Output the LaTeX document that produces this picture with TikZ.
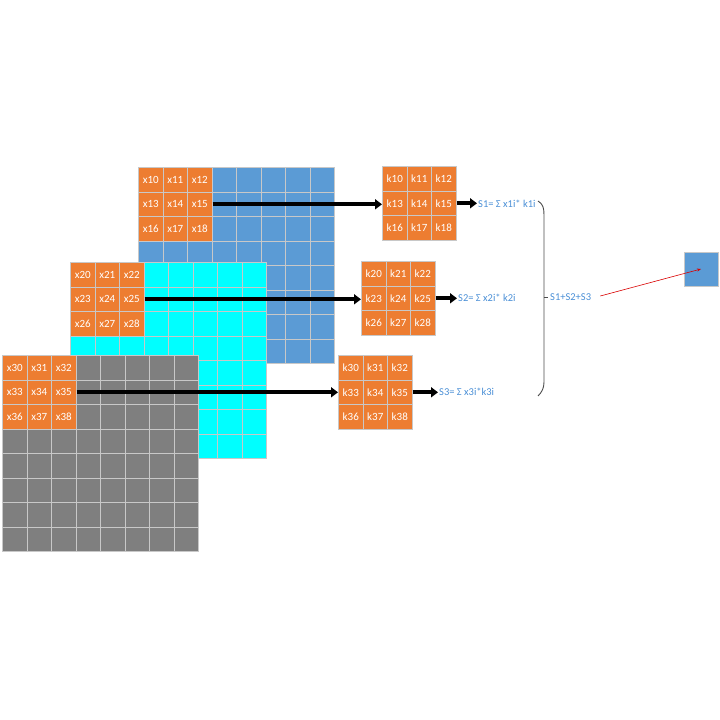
\documentclass[tikz,border=0pt]{standalone}
\usepackage{fontspec}
\setmainfont{Carlito}
\usetikzlibrary{arrows.meta}
\definecolor{gblue}{HTML}{5B9BD5}
\definecolor{gcyan}{HTML}{00FFFF}
\definecolor{ggray}{HTML}{7F7F7F}
\definecolor{gorange}{HTML}{ED7D31}
\definecolor{gline}{HTML}{C8C8C8}
\definecolor{slabel}{HTML}{4A8FD6}
\newcommand\featgrid[4]{%
  \foreach \i in {0,...,7}{\foreach \j in {0,...,7}{%
    \node[cellbox,fill=#3] (g#4-\i-\j) at ({#1+\i*24.5},{#2+\j*24.5}) {};}}%
  \foreach \k in {0,...,8}{%
    \pgfmathtruncatemacro\cc{mod(\k,3)}\pgfmathtruncatemacro\rr{div(\k,3)}%
    \node[cellbox,fill=gorange,text=white] (x#4\k) at ({#1+\cc*24.5},{#2+\rr*24.5}) {x#4\k};}%
}
\newcommand\kernbox[3]{%
  \foreach \k in {0,...,8}{%
    \pgfmathtruncatemacro\cc{mod(\k,3)}\pgfmathtruncatemacro\rr{div(\k,3)}%
    \node[cellbox,fill=gorange,text=white] (k#3\k) at ({#1+\cc*24.5},{#2+\rr*24.5}) {k#3\k};}%
}
\begin{document}
\begin{tikzpicture}[x=1pt,y=-1pt,
  cellbox/.style={draw=gline,line width=1.1pt,minimum size=24.5pt,inner sep=0pt,anchor=north west,font=\fontsize{11}{12}\selectfont},
  bigarrow/.style={line width=3.8pt,-{Triangle[length=7pt,width=10pt]}},
  slab/.style={anchor=west,inner sep=1pt,text=slabel,font=\fontsize{10.5}{12}\selectfont}]
\useasboundingbox (0,0) rectangle (720,720);
\featgrid{138}{167}{gblue}{1}
\featgrid{70}{262}{gcyan}{2}
\featgrid{2}{355}{ggray}{3}
\kernbox{382}{166}{1}
\kernbox{361}{261}{2}
\kernbox{338}{355}{3}
\node[slab] (s1) at (477,204) {S1= Σ x1i* k1i};
\node[slab] (s2) at (457,298) {S2= Σ x2i* k2i};
\node[slab] (s3) at (438,392) {S3= Σ x3i*k3i};
\draw[bigarrow] (x15.east) -- (x15.east -| k13.west);
\draw[bigarrow] (x25.east) -- (x25.east -| k23.west);
\draw[bigarrow] (x35.east) -- (x35.east -| k33.west);
\draw[bigarrow] (k15.east) -- (k15.east -| s1.west);
\draw[bigarrow] (k25.east) -- (k25.east -| s2.west);
\draw[bigarrow] (k35.east) -- (k35.east -| s3.west);
\draw[line width=0.9pt,black!70] (538,201) .. controls (543,204) and (544,208) .. (544,215)
  -- (544,382) .. controls (544,388) and (542,392) .. (538,396);
\draw[line width=0.9pt,black!70] (544,297) -- (548,297);
\node[slab] (sum) at (549,297) {S1+S2+S3};
\node[draw=gline,line width=0.8pt,fill=gblue,minimum size=34pt,inner sep=0pt] (out) at (701,269) {};
\draw[red!85!black,line width=0.6pt,-{Stealth[length=4pt,width=3pt]}] ([xshift=8pt,yshift=1pt]sum.east) -- (out.center);
\end{tikzpicture}
\end{document}
